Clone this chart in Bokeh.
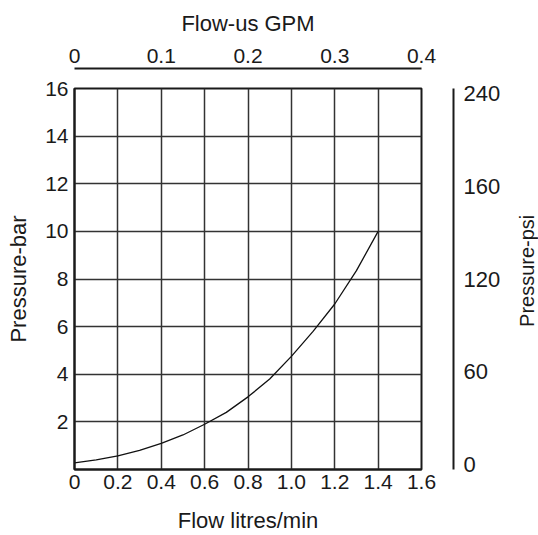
import math
from bokeh.plotting import figure
from bokeh.layouts import row
from bokeh.models import Range1d, LinearAxis, FixedTicker, Label
from bokeh.embed import file_html
from bokeh.resources import INLINE

# ---- data ----
flow_lpm = [0.0, 0.1, 0.2, 0.3, 0.4, 0.5, 0.6, 0.7, 0.8, 0.9, 1.0, 1.1, 1.2, 1.3, 1.4]
pressure_bar = [0.28, 0.40, 0.57, 0.80, 1.10, 1.45, 1.90, 2.40, 3.05, 3.80, 4.75, 5.80, 6.95, 8.35, 10.0]

x_ticks = [0, 0.2, 0.4, 0.6, 0.8, 1.0, 1.2, 1.4, 1.6]
x_tick_labels = ["0", "0.2", "0.4", "0.6", "0.8", "1.0", "1.2", "1.4", "1.6"]
y_ticks = [2, 4, 6, 8, 10, 12, 14, 16]
y_tick_labels = ["2", "4", "6", "8", "10", "12", "14", "16"]
gpm_ticks = [0, 0.1, 0.2, 0.3, 0.4]
gpm_tick_labels = ["0", "0.1", "0.2", "0.3", "0.4"]
psi_ticks = [0, 1, 2, 3, 4]
psi_tick_labels = ["0", "60", "120", "160", "240"]

FONT = "Liberation Sans"
INK = "#1a1a1a"
TICK_FS = "21px"
TITLE_FS = "22px"

MAIN_W, SIDE_W, H = 508, 30, 535

p = figure(width=MAIN_W, height=H, output_backend="svg", toolbar_location=None,
           x_range=Range1d(0, 1.6), y_range=Range1d(0, 16),
           min_border_left=74, min_border_right=MAIN_W - 74 - 347,
           min_border_top=88, min_border_bottom=65)
p.extra_x_ranges = {"gpm": Range1d(0, 0.4)}
p.extra_y_ranges = {"psi": Range1d(-0.054, 4.054)}

p.background_fill_color = "white"
p.border_fill_color = "white"
p.outline_line_color = INK
p.outline_line_width = 2


def style(ax, lab_standoff, title_standoff, tick_fs=TICK_FS):
    ax.major_tick_line_color = None
    ax.minor_tick_line_color = None
    ax.major_tick_out = 0
    ax.major_tick_in = 0
    ax.minor_tick_out = 0
    ax.minor_tick_in = 0
    ax.major_label_text_font = FONT
    ax.major_label_text_font_size = tick_fs
    ax.major_label_text_color = INK
    ax.axis_label_text_font = FONT
    ax.axis_label_text_font_size = TITLE_FS
    ax.axis_label_text_font_style = "normal"
    ax.axis_label_text_color = INK
    ax.axis_line_color = INK
    ax.axis_line_width = 2
    ax.major_label_standoff = lab_standoff
    ax.axis_label_standoff = title_standoff


def spacer(size):
    # near-invisible axis that only reserves room, so the next axis sits further out
    ax = LinearAxis(ticker=FixedTicker(ticks=[0], minor_ticks=[]))
    ax.axis_line_color = None
    ax.major_tick_line_color = "white"
    ax.major_tick_line_alpha = 0.01
    ax.minor_tick_line_color = None
    ax.major_tick_in = 0
    ax.major_tick_out = size
    ax.minor_tick_out = 0
    ax.major_label_standoff = 0
    ax.major_label_text_font_size = "0px"
    ax.major_label_overrides = {0: ""}
    return ax


xa = p.xaxis[0]
xa.ticker = FixedTicker(ticks=x_ticks, minor_ticks=[])
xa.major_label_overrides = dict(zip(x_ticks, x_tick_labels))
xa.axis_label = "Flow litres/min"
style(xa, 5, 16)
xa.axis_label_text_line_height = 1.0

ya = p.yaxis[0]
ya.ticker = FixedTicker(ticks=y_ticks, minor_ticks=[])
ya.major_label_overrides = dict(zip(y_ticks, y_tick_labels))
ya.axis_label = "Pressure-bar"
style(ya, 6, 11)

p.xgrid.ticker = FixedTicker(ticks=x_ticks, minor_ticks=[])
p.ygrid.ticker = FixedTicker(ticks=[0] + y_ticks, minor_ticks=[])
for g in (p.xgrid[0], p.ygrid[0]):
    g.grid_line_color = "#333333"
    g.grid_line_width = 1.5
    g.grid_line_alpha = 1.0

p.add_layout(spacer(20), "above")
top = LinearAxis(x_range_name="gpm", ticker=FixedTicker(ticks=gpm_ticks, minor_ticks=[]),
                 major_label_overrides=dict(zip(gpm_ticks, gpm_tick_labels)),
                 axis_label="Flow-us GPM")
style(top, 6, 10)
p.add_layout(top, "above")

p.add_layout(spacer(32), "right")
right = LinearAxis(y_range_name="psi", ticker=FixedTicker(ticks=psi_ticks, minor_ticks=[]),
                   major_label_overrides=dict(zip(psi_ticks, psi_tick_labels)))
style(right, 10, 0, tick_fs="22px")
p.add_layout(right, "right")

p.line(flow_lpm, pressure_bar, line_color="#111111", line_width=1.3)

# narrow strip to the right that carries the psi axis title, reading bottom-to-top
side = figure(width=SIDE_W, height=H, output_backend="svg", toolbar_location=None,
              x_range=Range1d(0, SIDE_W), y_range=Range1d(0, H),
              x_axis_location=None, y_axis_location=None, min_border=0)
side.grid.visible = False
side.outline_line_color = None
side.background_fill_color = "white"
side.border_fill_color = "white"
side.add_layout(Label(x=18, y=H - 256, text="Pressure-psi", angle=math.pi / 2,
                      text_align="center", text_baseline="middle",
                      text_font=FONT, text_font_size="20px", text_color=INK))

layout = row(p, side, spacing=0)
open("out.html", "w").write(file_html(layout, INLINE))
